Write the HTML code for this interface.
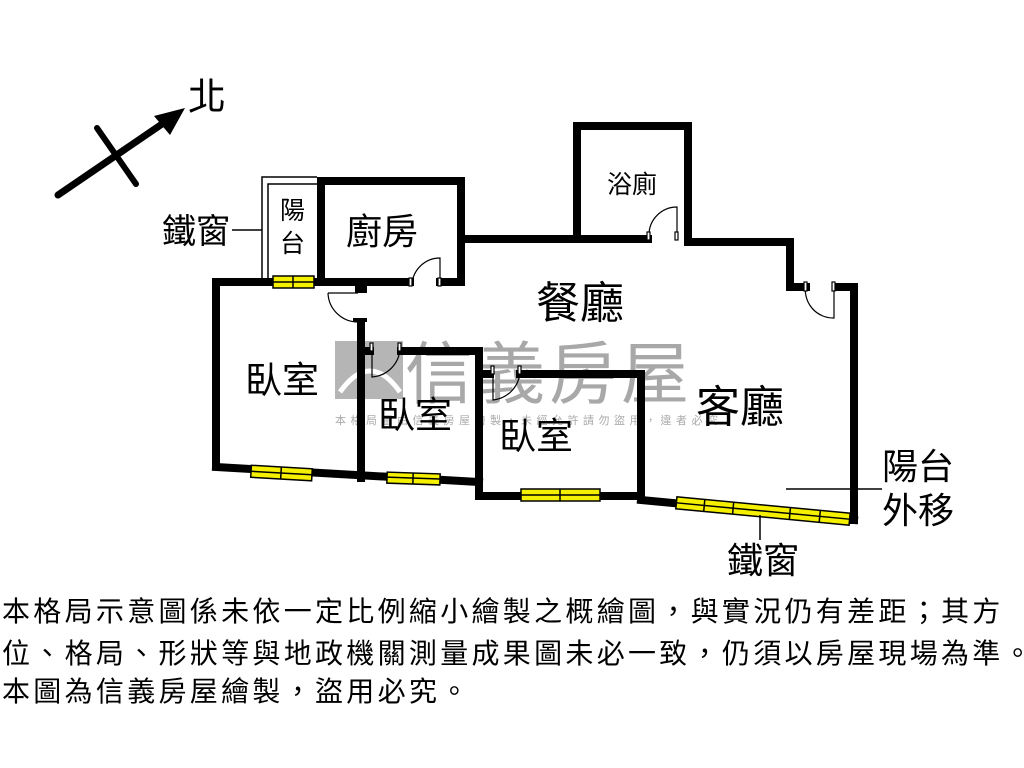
<!DOCTYPE html>
<html><head><meta charset="utf-8"><style>
html,body{margin:0;padding:0;background:#fff;width:1024px;height:768px;overflow:hidden}
.t{position:absolute;left:2px;font-family:"Liberation Sans","Noto Sans CJK TC",sans-serif;font-size:28px;line-height:28px;color:#000;white-space:nowrap;letter-spacing:3.3px}
</style></head><body>
<svg width="1024" height="768" style="position:absolute;left:0;top:0" font-family="'Liberation Sans','Noto Sans CJK TC',sans-serif">
<!-- watermark -->
<rect x="335" y="341" width="68" height="58" fill="#b5b5b5"/>
<path d="M340 392 Q370 350 400 392" stroke="#fff" stroke-width="5" fill="none"/>
<text x="405" y="398" font-size="68" fill="#a8a8a8" letter-spacing="4">信義房屋</text>
<text x="335" y="424" font-size="11" fill="#aaa" letter-spacing="4.5">本格局圖由信義房屋繪製，未經允許請勿盜用，違者必究</text>
<!-- compass -->
<line x1="58" y1="195" x2="165" y2="122" stroke="#000" stroke-width="7" stroke-linecap="round"/>
<polygon points="185,108 154,116 170,135" fill="#000"/>
<line x1="97" y1="128" x2="136" y2="184" stroke="#000" stroke-width="6" stroke-linecap="round"/>
<text x="188" y="110" font-size="38">北</text>
<!-- small balcony thin lines -->
<polyline points="262,278 262,177 317,177" fill="none" stroke="#000" stroke-width="1.5"/>
<polyline points="268,278 268,184 317,184" fill="none" stroke="#000" stroke-width="1.5"/>
<line x1="232" y1="230" x2="262" y2="230" stroke="#000" stroke-width="1.5"/>
<g fill="none" stroke="#000" stroke-width="8" stroke-linejoin="miter" stroke-linecap="square">
<polyline points="321,282 321,181 461,181 461,282 440,282"/>
<line x1="410" y1="282" x2="321" y2="282"/>
<line x1="321" y1="282" x2="216" y2="282"/>
<line x1="465" y1="239" x2="577" y2="239"/>
<polyline points="577,239 577,126 688,126 688,242 790,242 790,287 806,287"/>
<line x1="577" y1="239" x2="648" y2="239"/>
<polyline points="836,287 854,287 854,520"/>
<polyline points="216,282 216,466"/>
<line x1="216" y1="467" x2="479" y2="482"/>
<polyline points="361,322 361,478"/>
<polyline points="401,351 479,351 479,496 641,496 641,374 520,374"/>
<line x1="365" y1="351" x2="370" y2="351"/>
<line x1="479" y1="374" x2="490" y2="374"/>
<line x1="641" y1="500" x2="854" y2="520"/>
</g>
<rect x="355" y="286" width="12" height="7" fill="#000"/>
<rect x="353" y="318" width="14" height="4" fill="#000"/>
<g fill="none" stroke="#000" stroke-width="1.2">
<path d="M412 286 A28 28 0 0 1 440 258 L440 286"/><rect x="409" y="278" width="3" height="8" fill="#fff"/><rect x="438" y="278" width="3" height="8" fill="#fff"/>
<path d="M649 235 A28 28 0 0 1 677 207 L677 235"/><rect x="647" y="232" width="3" height="8" fill="#fff"/><rect x="675" y="232" width="3" height="8" fill="#fff"/>
<path d="M328 293 A30 30 0 0 0 358 322 M328 293 L358 293"/>
<path d="M372 345 L372 377 A30 30 0 0 0 400 348"/><rect x="370" y="343" width="3" height="8" fill="#fff"/><rect x="398" y="343" width="3" height="8" fill="#fff"/>
<path d="M493 368 L493 400 A30 30 0 0 0 520 370"/><rect x="491" y="366" width="3" height="8" fill="#fff"/><rect x="518" y="366" width="3" height="8" fill="#fff"/>
<path d="M806 284 A28 28 0 0 0 834 318 L834 284"/><rect x="804" y="282" width="3" height="9" fill="#fff"/><rect x="832" y="282" width="3" height="9" fill="#fff"/>
</g>
<g stroke="#000" stroke-width="1.5" fill="#f5f000">
<rect x="273" y="276" width="41" height="12"/><line x1="273" y1="282" x2="314" y2="282"/><line x1="293" y1="276" x2="293" y2="288"/>
<g transform="rotate(3.3 281 473)"><rect x="251" y="467" width="61" height="12"/><line x1="251" y1="473" x2="312" y2="473"/><line x1="281" y1="467" x2="281" y2="479"/></g>
<g transform="rotate(2 413 479)"><rect x="387" y="473" width="53" height="11"/><line x1="387" y1="478" x2="440" y2="478"/><line x1="413" y1="473" x2="413" y2="484"/></g>
<rect x="521" y="489" width="79" height="12"/><line x1="521" y1="495" x2="600" y2="495"/><line x1="560" y1="489" x2="560" y2="501"/>
<g transform="rotate(5.4 763 511)"><rect x="676" y="505" width="174" height="12"/><line x1="676" y1="511" x2="850" y2="511"/><line x1="704" y1="505" x2="704" y2="517"/><line x1="733" y1="505" x2="733" y2="517"/><line x1="790" y1="505" x2="790" y2="517"/><line x1="820" y1="505" x2="820" y2="517"/></g>
</g>
<line x1="786" y1="489" x2="882" y2="489" stroke="#000" stroke-width="1.5"/>
<line x1="760" y1="515" x2="760" y2="540" stroke="#000" stroke-width="1.5"/>
<g font-size="34" fill="#000">
<text x="162" y="243">鐵窗</text>
<text x="280" y="219" font-size="25">陽</text>
<text x="280" y="252" font-size="25">台</text>
<text x="346" y="244" font-size="36">廚房</text>
<text x="607" y="193" font-size="25">浴廁</text>
<text x="536" y="318" font-size="44">餐廳</text>
<text x="245" y="393" font-size="37">臥室</text>
<text x="378" y="428" font-size="37">臥室</text>
<text x="499" y="449" font-size="37">臥室</text>
<text x="696" y="422" font-size="44">客廳</text>
<text x="882" y="479" font-size="36">陽台</text>
<text x="882" y="523" font-size="36">外移</text>
<text x="727" y="573" font-size="36">鐵窗</text>
</g>
</svg>
<div class="t" style="top:598px">本格局示意圖係未依一定比例縮小繪製之概繪圖，與實況仍有差距；其方</div>
<div class="t" style="top:640px">位、格局、形狀等與地政機關測量成果圖未必一致，仍須以房屋現場為準。</div>
<div class="t" style="top:678px">本圖為信義房屋繪製，盜用必究。</div>
</body></html>
